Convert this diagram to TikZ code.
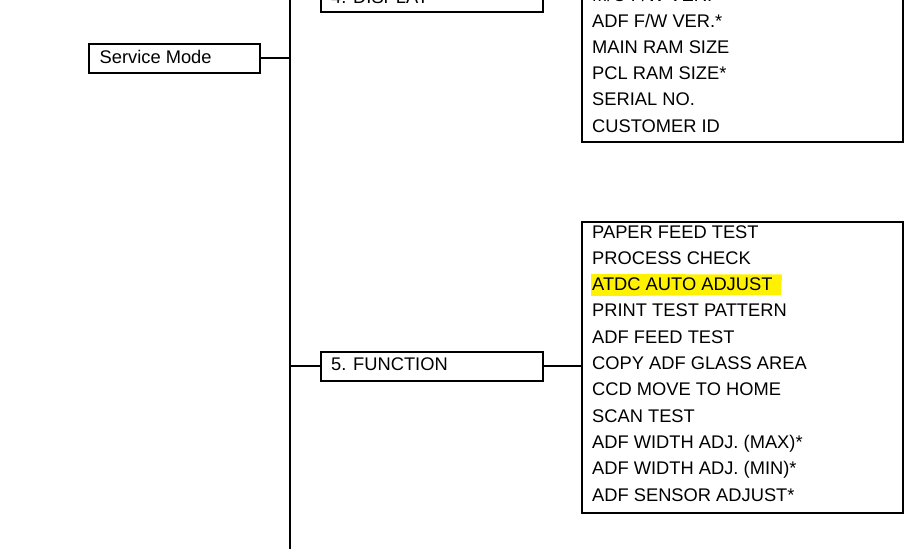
\documentclass[tikz,border=0pt]{standalone}
\usepackage{fontspec}
\setmainfont{Liberation Sans}
\begin{document}
\begin{tikzpicture}[x=1pt,y=-1pt,
  box/.style={draw,line width=2pt,inner sep=0pt,outer sep=0pt,anchor=north west},
  item/.style={anchor=base west,inner sep=0pt,font=\fontsize{18.3}{20}\selectfont},
  link/.style={line width=2pt}]
\useasboundingbox (0,0) rectangle (914,549);
\clip (0,0) rectangle (914,549);
% highlight
\fill[yellow] (591,274) -- (782,274.5) -- (781,295) -- (591,296) -- cycle;
% trunk
\coordinate (trunk) at (290,-5);
\coordinate (trunkb) at (290,554);
\draw[link] (trunk) -- (trunkb);
% Service Mode
\node[box,minimum width=171pt,minimum height=29pt] (sm) at (89,43.5) {};
\node[item] (smt) at (99.5,63) {Service Mode};
\draw[link] (sm.east) -- (sm.east -| trunk);
% 4. DISPLAY
\node[box,minimum width=222pt,minimum height=29pt] (disp) at (320.5,-17) {};
\node[item] (dispt) at (331,3) {4. DISPLAY};
\node[box,minimum width=321pt,minimum height=182pt] (displist) at (581.5,-40) {};
\node[item] (d0) at (592,1) {M/C F/W VER.};
\node[item] (d1) at (592,27) {ADF F/W VER.*};
\node[item] (d2) at (592,53.3) {MAIN RAM SIZE};
\node[item] (d3) at (592,79.6) {PCL RAM SIZE*};
\node[item] (d4) at (592,105.9) {SERIAL NO.};
\node[item] (d5) at (592,132.2) {CUSTOMER ID};
% 5. FUNCTION
\node[box,minimum width=222pt,minimum height=29pt] (func) at (320.5,351.5) {};
\node[item] (funct) at (331,370.7) {5. FUNCTION};
\node[box,minimum width=321pt,minimum height=291pt] (funclist) at (581.5,221.5) {};
\draw[link] (func.west -| trunk) -- (func.west);
\draw[link] (func.east) -- (funclist.west |- func.east);
\node[item] (f1) at (592,238) {PAPER FEED TEST};
\node[item] (f2) at (592,264.3) {PROCESS CHECK};
\node[item] (f3) at (592,290.6) {ATDC AUTO ADJUST};
\node[item] (f4) at (592,316.9) {PRINT TEST PATTERN};
\node[item] (f5) at (592,343.2) {ADF FEED TEST};
\node[item] (f6) at (592,369.5) {COPY ADF GLASS AREA};
\node[item] (f7) at (592,395.8) {CCD MOVE TO HOME};
\node[item] (f8) at (592,422.1) {SCAN TEST};
\node[item] (f9) at (592,448.4) {ADF WIDTH ADJ. (MAX)*};
\node[item] (f10) at (592,474.7) {ADF WIDTH ADJ. (MIN)*};
\node[item] (f11) at (592,501) {ADF SENSOR ADJUST*};
\end{tikzpicture}
\end{document}
